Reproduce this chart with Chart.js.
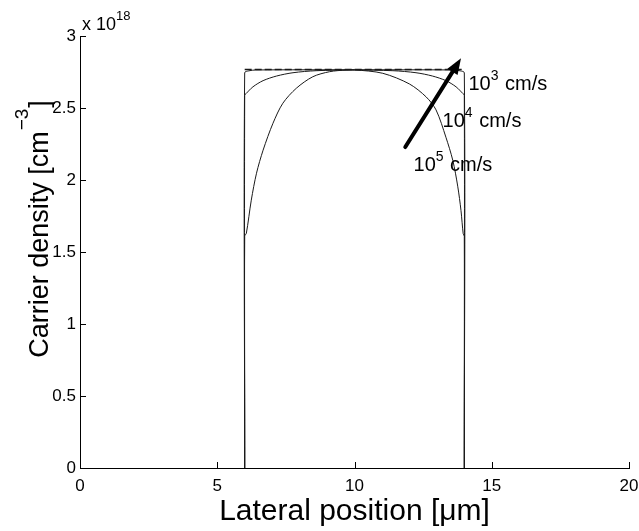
<!DOCTYPE html>
<html>
<head>
<meta charset="utf-8">
<script src="https://cdn.jsdelivr.net/npm/chart.js@4.4.0/dist/chart.umd.min.js"></script>
<style>
  html, body { margin: 0; padding: 0; background: #fff; }
</style>
</head>
<body>
<canvas id="c" width="639" height="531"></canvas>
<script>
// values in units of 1e18 cm^-3, positions in um
const xTicks = [0, 5, 10, 15, 20];
const xTickLabels = ["0", "5", "10", "15", "20"];
const yTicks = [0, 0.5, 1, 1.5, 2, 2.5, 3];
const yTickLabels = ["0", "0.5", "1", "1.5", "2", "2.5", "3"];

const seriesNames = ["flat", "10^3 cm/s", "10^4 cm/s", "10^5 cm/s"];

const xFlat = [6, 14];
const yFlat = [2.767, 2.767];

const x1e3 = [6, 6, 6.15, 6.4, 10, 13.6, 13.85, 14, 14];
const y1e3 = [0, 2.745, 2.758, 2.764, 2.765, 2.764, 2.758, 2.745, 0];

const x1e4 = [6, 6, 6.05, 6.3, 6.67, 7.16, 7.76, 8.6, 10, 11.4, 12.24, 12.84, 13.33, 13.7, 13.95, 14, 14];
const y1e4 = [0, 2.59, 2.6, 2.647, 2.69, 2.722, 2.745, 2.759, 2.764, 2.759, 2.745, 2.722, 2.69, 2.647, 2.6, 2.59, 0];

const x1e5 = [6, 6, 6.06, 6.24, 6.43, 6.67, 7.03, 7.39, 7.88, 8.48, 9.09, 9.7, 10,
              11.03, 12.0, 12.61, 12.97, 13.33, 13.58, 13.76, 13.88, 13.96, 14, 14];
const y1e5 = [0, 1.61, 1.63, 1.86, 2.047, 2.207, 2.394, 2.533, 2.637, 2.717, 2.752, 2.764, 2.765,
              2.741, 2.667, 2.577, 2.487, 2.297, 2.137, 1.957, 1.787, 1.627, 1.61, 0];

const FONT = '"Liberation Sans", Arial, Helvetica, sans-serif';

function pts(xs, ys) {
    return xs.map((v, i) => ({ x: v, y: ys[i] }));
}

function line(label, xs, ys, extra) {
    return Object.assign({
        label: label,
        data: pts(xs, ys),
        borderColor: "#1a1a1a",
        borderWidth: 1,
        pointRadius: 0,
        tension: 0.3,
        fill: false
    }, extra || {});
}

// text with superscripts: parts = [text, size, rise, extra gap]
function partsWidth(ctx, parts) {
    let w = 0;
    parts.forEach(p => {
        ctx.font = p[1] + "px " + FONT;
        w += ctx.measureText(p[0]).width + (p[3] || 0);
    });
    return w;
}
function drawParts(ctx, parts, x, y) {
    let cx = x;
    parts.forEach(p => {
        ctx.font = p[1] + "px " + FONT;
        ctx.fillText(p[0], cx, y - p[2]);
        cx += ctx.measureText(p[0]).width + (p[3] || 0);
    });
}

const extras = {
    id: "extras",
    afterDraw(chart) {
        const { ctx, chartArea: a, scales: { x, y } } = chart;
        ctx.save();
        ctx.fillStyle = "#000";
        ctx.strokeStyle = "#000";
        ctx.textBaseline = "alphabetic";
        ctx.textAlign = "left";

        // inward tick marks
        ctx.lineWidth = 1;
        ctx.beginPath();
        yTicks.forEach(v => {
            const py = Math.round(y.getPixelForValue(v)) + 0.5;
            ctx.moveTo(a.left, py);
            ctx.lineTo(a.left + 6, py);
        });
        xTicks.forEach(v => {
            const px = Math.round(x.getPixelForValue(v)) + 0.5;
            ctx.moveTo(px, a.bottom);
            ctx.lineTo(px, a.bottom - 6);
        });
        ctx.stroke();

        // exponent above the y axis
        drawParts(ctx, [["x 10", 18, 0, 0], ["18", 13, 10]], a.left + 2, 30);

        // arrow
        const x0 = x.getPixelForValue(11.85), y0 = y.getPixelForValue(2.229);
        const x1 = x.getPixelForValue(13.88), y1 = y.getPixelForValue(2.845);
        const ang = Math.atan2(y1 - y0, x1 - x0);
        const hl = 16, hw = 6;
        const bx = x1 - hl * Math.cos(ang), by = y1 - hl * Math.sin(ang);
        ctx.lineWidth = 4;
        ctx.lineCap = "round";
        ctx.beginPath();
        ctx.moveTo(x0, y0);
        ctx.lineTo(bx, by);
        ctx.stroke();
        ctx.beginPath();
        ctx.moveTo(x1, y1);
        ctx.lineTo(bx + hw * Math.sin(ang), by - hw * Math.cos(ang));
        ctx.lineTo(bx - hw * Math.sin(ang), by + hw * Math.cos(ang));
        ctx.closePath();
        ctx.fill();

        // curve labels
        drawParts(ctx, [["10", 20, 0], ["3", 14, 10, 1], [" cm/s", 20, 0]],
            x.getPixelForValue(14.15), y.getPixelForValue(2.625));
        drawParts(ctx, [["10", 20, 0], ["4", 14, 10, 1], [" cm/s", 20, 0]],
            x.getPixelForValue(13.21), y.getPixelForValue(2.366));
        drawParts(ctx, [["10", 20, 0], ["5", 14, 10, 1], [" cm/s", 20, 0]],
            x.getPixelForValue(12.15), y.getPixelForValue(2.065));

        // x title
        const xt = [["Lateral position [\u03bcm]", 30, 0]];
        drawParts(ctx, xt, (a.left + a.right) / 2 - partsWidth(ctx, xt) / 2, 520);

        // y title, rotated
        const yt = [["Carrier density [cm", 27, 0, 1], ["\u22123", 19, 20, 1], ["]", 27, 0]];
        ctx.translate(48, 229);
        ctx.rotate(-Math.PI / 2);
        drawParts(ctx, yt, -partsWidth(ctx, yt) / 2, 0);
        ctx.restore();
    }
};

new Chart(document.getElementById("c"), {
    type: "line",
    data: {
        datasets: [
            line(seriesNames[0], xFlat, yFlat, { borderDash: [7, 3], borderWidth: 1.5, tension: 0 }),
            line(seriesNames[1], x1e3, y1e3),
            line(seriesNames[2], x1e4, y1e4),
            line(seriesNames[3], x1e5, y1e5)
        ]
    },
    options: {
        responsive: false,
        animation: false,
        layout: { padding: { left: 0, top: 36, right: 10, bottom: 0 } },
        plugins: {
            legend: { display: false },
            tooltip: { enabled: false }
        },
        scales: {
            x: {
                type: "linear",
                min: 0,
                max: 20,
                afterBuildTicks: s => { s.ticks = xTicks.map(v => ({ value: v })); },
                afterFit: s => { s.height = 63; s.paddingLeft = 0; s.paddingRight = 0; },
                grid: { display: false, drawTicks: false },
                border: { display: true, color: "#000", width: 1 },
                ticks: {
                    color: "#000", padding: 8, maxRotation: 0,
                    font: { family: FONT, size: 17 },
                    callback: (v, i) => xTickLabels[i]
                }
            },
            y: {
                type: "linear",
                min: 0,
                max: 3,
                afterBuildTicks: s => { s.ticks = yTicks.map(v => ({ value: v })); },
                afterFit: s => { s.width = 80; s.paddingTop = 0; s.paddingBottom = 0; },
                grid: { display: false, drawTicks: false },
                border: { display: true, color: "#000", width: 1 },
                ticks: {
                    color: "#000", padding: 4,
                    font: { family: FONT, size: 17 },
                    callback: (v, i) => yTickLabels[i]
                }
            }
        }
    },
    plugins: [extras]
});
</script>
</body>
</html>
